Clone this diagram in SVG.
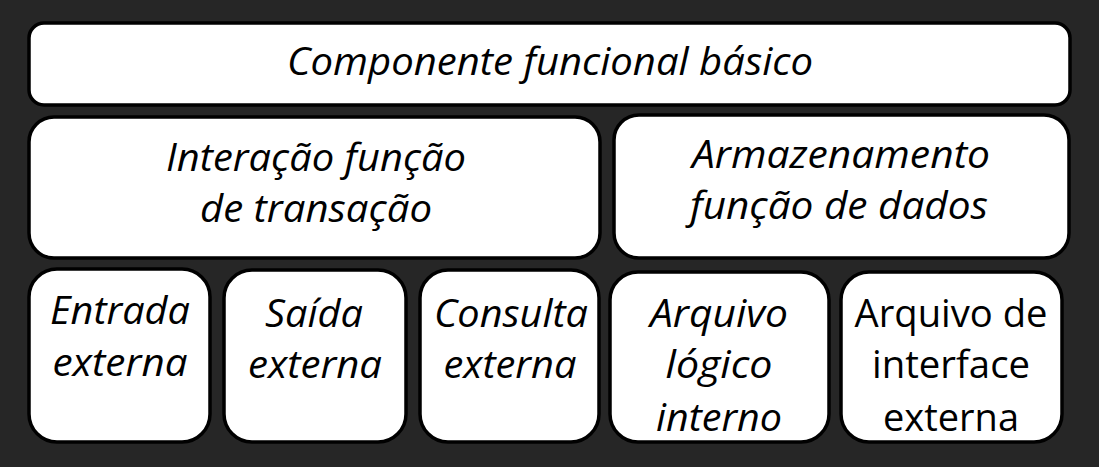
<svg xmlns="http://www.w3.org/2000/svg" width="1099" height="467" viewBox="0 0 1099 467">
<style>
.box{fill:#fff;stroke:#000;stroke-width:3.5}
.t{font-family:"Open Sans","Liberation Sans",sans-serif;font-size:39px;fill:#000;text-anchor:middle}
.i{font-style:italic}
</style>
<rect x="0" y="0" width="1099" height="467" fill="#262626"/>
<g id="connectors"/>
<g id="n-componente">
<rect class="box" x="29" y="23" width="1041" height="82" rx="15"/>
<text class="t i" x="550" y="75" textLength="526" lengthAdjust="spacingAndGlyphs">Componente funcional básico</text>
</g>
<g id="n-interacao">
<rect class="box" x="29" y="117" width="571" height="141" rx="25"/>
<text class="t i" x="316" y="171" textLength="300" lengthAdjust="spacingAndGlyphs">Interação função</text>
<text class="t i" x="316" y="222" textLength="232" lengthAdjust="spacingAndGlyphs">de transação</text>
</g>
<g id="n-armazenamento">
<rect class="box" x="614" y="115" width="455" height="143" rx="25"/>
<text class="t i" x="841" y="168" textLength="298" lengthAdjust="spacingAndGlyphs">Armazenamento</text>
<text class="t i" x="839" y="219" textLength="298" lengthAdjust="spacingAndGlyphs">função de dados</text>
</g>
<g id="n-entrada">
<rect class="box" x="29" y="269" width="181" height="173" rx="28"/>
<text class="t i" x="120" y="324" textLength="140" lengthAdjust="spacingAndGlyphs">Entrada</text>
<text class="t i" x="120" y="376" textLength="135" lengthAdjust="spacingAndGlyphs">externa</text>
</g>
<g id="n-saida">
<rect class="box" x="224" y="270" width="182" height="172" rx="28"/>
<text class="t i" x="314" y="327" textLength="98" lengthAdjust="spacingAndGlyphs">Saída</text>
<text class="t i" x="315" y="378" textLength="134" lengthAdjust="spacingAndGlyphs">externa</text>
</g>
<g id="n-consulta">
<rect class="box" x="420" y="270" width="179" height="172" rx="28"/>
<text class="t i" x="511" y="327" textLength="154" lengthAdjust="spacingAndGlyphs">Consulta</text>
<text class="t i" x="510" y="378" textLength="133" lengthAdjust="spacingAndGlyphs">externa</text>
</g>
<g id="n-arquivo-logico">
<rect class="box" x="610" y="272" width="219" height="170" rx="28"/>
<text class="t i" x="719" y="327" textLength="138" lengthAdjust="spacingAndGlyphs">Arquivo</text>
<text class="t i" x="719" y="378" textLength="107" lengthAdjust="spacingAndGlyphs">lógico</text>
<text class="t i" x="719" y="431" textLength="126" lengthAdjust="spacingAndGlyphs">interno</text>
</g>
<g id="n-arquivo-interface">
<rect class="box" x="841" y="272" width="221" height="170" rx="28"/>
<text class="t" x="951" y="327" textLength="193" lengthAdjust="spacingAndGlyphs">Arquivo de</text>
<text class="t" x="951" y="378" textLength="158" lengthAdjust="spacingAndGlyphs">interface</text>
<text class="t" x="951" y="431" textLength="136" lengthAdjust="spacingAndGlyphs">externa</text>
</g>
</svg>
